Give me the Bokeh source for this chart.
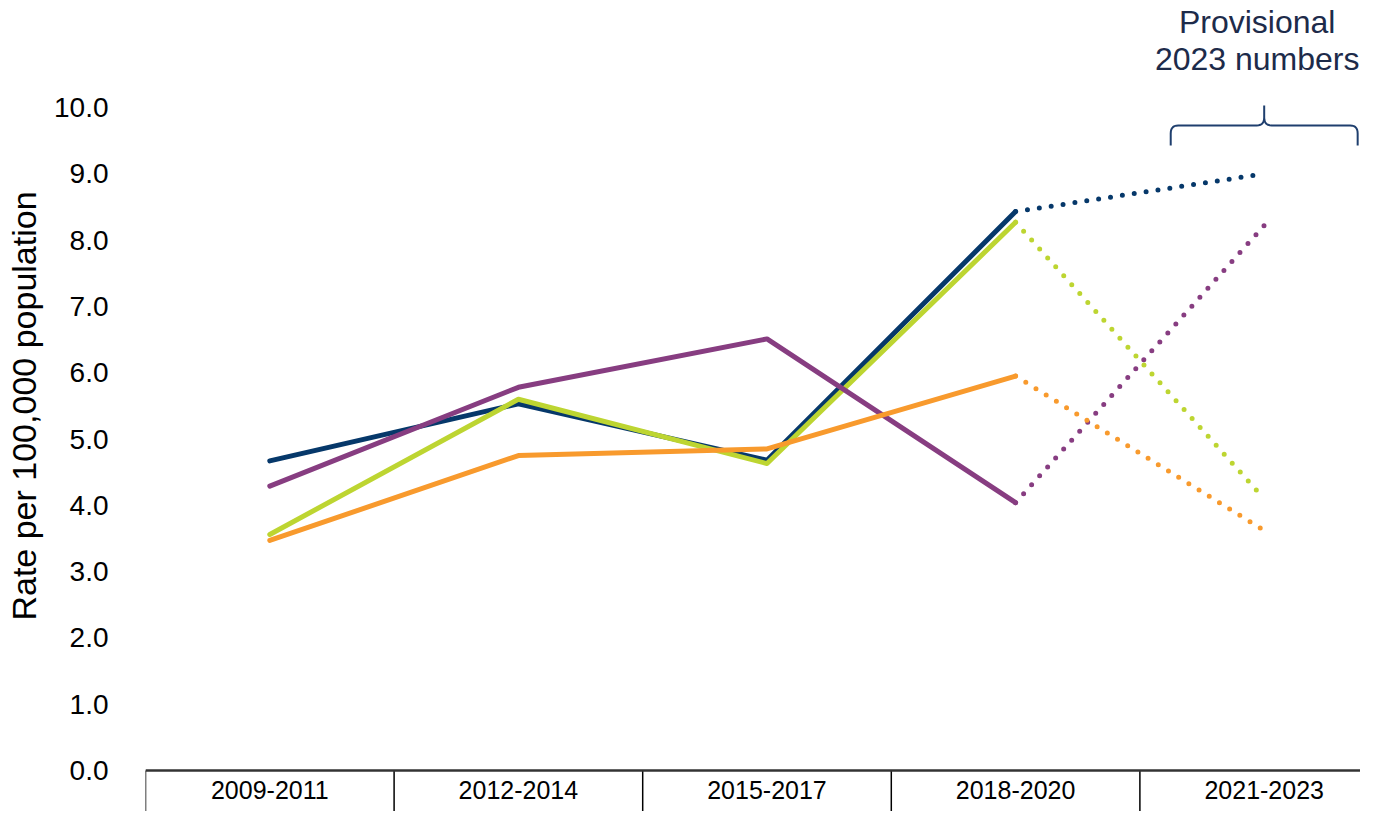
import numpy as np
from bokeh.plotting import figure
from bokeh.models import Range1d, FixedTicker, PrintfTickFormatter, Span, Label
from bokeh.core.properties import value
from bokeh.embed import file_html
from bokeh.resources import INLINE

# ---------------- data ----------------
periods = ["2009-2011", "2012-2014", "2015-2017", "2018-2020", "2021-2023"]
navy_vals = [4.67, 5.53, 4.68, 8.43, 9.00]
green_vals = [3.56, 5.60, 4.63, 8.27, 4.10]
purple_vals = [4.29, 5.78, 6.51, 4.04, 8.22]
orange_vals = [3.47, 4.75, 4.85, 5.95, 3.62]
y_ticks = [0, 1, 2, 3, 4, 5, 6, 7, 8, 9, 10]
note_lines = ["Provisional", "2023 numbers"]

series = [
    (navy_vals, "#06386A"),
    (green_vals, "#BDD531"),
    (purple_vals, "#873D81"),
    (orange_vals, "#F89A2D"),
]

FONT = "Liberation Sans"

p = figure(width=1360, height=811, output_backend="svg", toolbar_location=None,
           x_range=Range1d(-0.5, 4.3874), y_range=Range1d(-0.618, 11.614),
           min_border_left=145, min_border_right=0, min_border_top=0, min_border_bottom=0,
           x_axis_location=None)
p.outline_line_color = None
p.grid.visible = False
p.background_fill_color = "white"
p.border_fill_color = "white"

# y axis
ya = p.yaxis[0]
ya.ticker = FixedTicker(ticks=y_ticks)
ya.formatter = PrintfTickFormatter(format="%.1f")
ya.axis_line_color = None
ya.major_tick_line_color = None
ya.minor_tick_line_color = None
ya.major_label_standoff = 31
ya.major_label_text_font = FONT
ya.major_label_text_font_size = "28px"
ya.major_label_text_color = "#000000"
ya.axis_label = "Rate per 100,000 population"
ya.axis_label_text_font = FONT
ya.axis_label_text_font_size = "34px"
ya.axis_label_text_font_style = "normal"
ya.axis_label_text_color = "#000000"
ya.axis_label_standoff = 8

# x axis line + category separators
p.add_layout(Span(location=0, dimension="width", line_color="#333333", line_width=2.5))
n = len(periods)
bounds = [i - 0.5 for i in range(n + 1)]
p.segment(x0=bounds, y0=[0] * len(bounds), x1=bounds, y1=[-1] * len(bounds),
          line_color="#000000", line_width=1.5)

# category labels
xs = list(range(n))
p.text(x=xs, y=[-0.30] * n, text=periods, text_align="center", text_baseline="middle",
       text_font=value(FONT), text_font_size="25px", text_color="#000000")

# series: solid for final counts, dotted to provisional values
for vals, col in series:
    p.line(xs[:4], vals[:4], line_color=col, line_width=5, line_join="round", line_cap="round")
for vals, col in series:
    p.line(xs[3:], vals[3:], line_color=col, line_width=5, line_dash="0 12",
           line_cap="round", line_join="round")

# curly bracket over the provisional category
def qbez(p0, p1, p2, m=8):
    t = np.linspace(0, 1, m)
    x = (1 - t) ** 2 * p0[0] + 2 * (1 - t) * t * p1[0] + t ** 2 * p2[0]
    y = (1 - t) ** 2 * p0[1] + 2 * (1 - t) * t * p1[1] + t ** 2 * p2[1]
    return list(x), list(y)

xc = 4.0
hw = 0.376
y_line, y_leg, y_tip = 9.729, 9.427, 10.03
rx, ry = 0.03, 0.121
bx, by = [], []
def add(seg):
    bx.extend(seg[0]); by.extend(seg[1])
add(([xc - hw], [y_leg]))
add(qbez((xc - hw, y_line - ry), (xc - hw, y_line), (xc - hw + rx, y_line)))
add(qbez((xc - rx, y_line), (xc, y_line), (xc, y_line + ry)))
add(([xc], [y_tip]))
add(qbez((xc, y_line + ry), (xc, y_line), (xc + rx, y_line)))
add(qbez((xc + hw - rx, y_line), (xc + hw, y_line), (xc + hw, y_line - ry)))
add(([xc + hw], [y_leg]))
p.line(bx, by, line_color="#1F3F6E", line_width=2)

# note text
p.add_layout(Label(x=4, y=11.297, text=note_lines[0], text_align="center", text_baseline="middle",
                   x_offset=-7, text_font=FONT, text_font_size="32px", text_color="#1D2B4A"))
p.add_layout(Label(x=4, y=10.739, text=note_lines[1], text_align="center", text_baseline="middle",
                   x_offset=-7, text_font=FONT, text_font_size="32px", text_color="#1D2B4A"))

open("out.html", "w").write(file_html(p, INLINE))
